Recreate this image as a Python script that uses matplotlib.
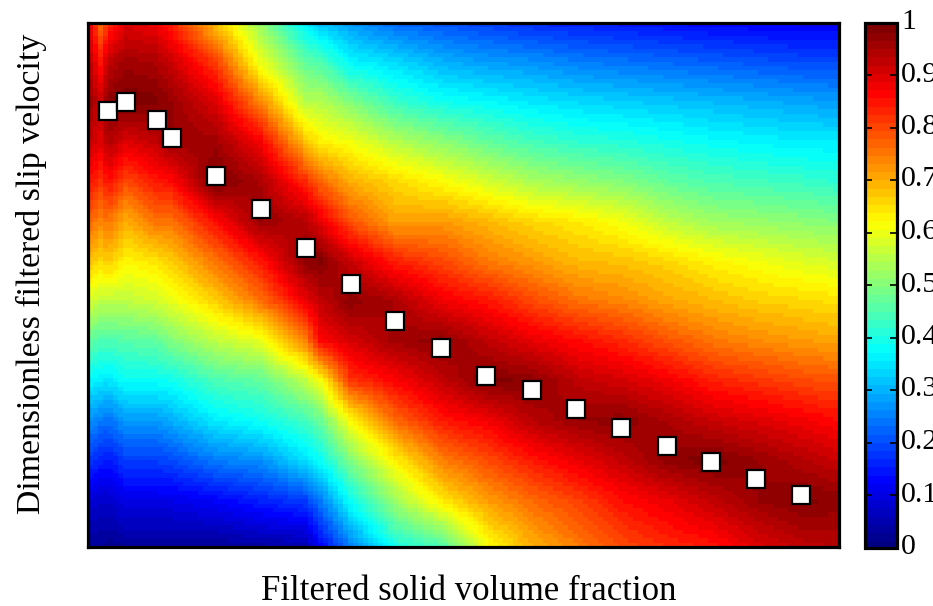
import numpy as np
import matplotlib
matplotlib.use("Agg")
import matplotlib.pyplot as plt
from matplotlib.colors import LinearSegmentedColormap
from matplotlib.ticker import FuncFormatter
from matplotlib.transforms import ScaledTranslation

plt.rcParams['font.family'] = ['Liberation Serif', 'DejaVu Serif']

x_label = "Filtered solid volume fraction"
y_label = "Dimensionless filtered slip velocity"

# Marker positions, in arbitrary axis units (the chart has no axis ticks)
marker_x = [20, 38, 69, 84, 128, 173, 218, 263, 307, 353, 398, 444, 488, 533, 579, 623, 668, 713]
marker_y = [437, 446, 428, 410, 372, 339, 300, 264, 227, 200, 171, 157, 138, 119, 101, 85, 68, 52]

# Heat map samples
grid_x = [3, 13, 20, 38, 68, 83, 128, 173, 218, 233, 263, 308, 356, 401, 446, 491, 536, 581, 626, 671, 716, 751]
grid_y = [526, 487, 447, 407, 367, 327, 287, 247, 207, 167, 127, 87, 47, 0]
heat = [
    [.87, .92, .96, .92, .85, .77, .68, .58, .47, .37, .27, .18, .09, .03],
    [.76, .85, .92, .90, .82, .74, .66, .56, .45, .36, .25, .16, .08, .03],
    [.82, .93, .98, .95, .86, .76, .68, .56, .45, .35, .24, .15, .08, .02],
    [.90, .96, 1.0, .90, .80, .70, .63, .56, .46, .385, .28, .19, .11, .03],
    [.88, .95, .99, .93, .85, .76, .65, .58, .47, .385, .28, .19, .11, .03],
    [.84, .92, .97, .97, .86, .76, .67, .60, .50, .39, .30, .20, .11, .03],
    [.68, .81, .90, .96, 1.0, .86, .76, .67, .56, .45, .36, .25, .13, .03],
    [.52, .60, .74, .875, .95, .97, .85, .76, .60, .47, .39, .27, .16, .04],
    [.36, .47, .55, .68, .83, .94, .98, .89, .75, .56, .44, .35, .19, .05],
    [.32, .45, .55, .635, .77, .89, .99, .93, .87, .62, .48, .385, .25, .13],
    [.28, .37, .50, .61, .70, .79, .92, .98, .91, .82, .62, .50, .39, .25],
    [.23, .34, .43, .55, .66, .71, .84, .95, .96, .87, .77, .635, .53, .40],
    [.21, .30, .39, .51, .62, .72, .80, .88, .98, .93, .85, .75, .65, .45],
    [.19, .28, .375, .47, .58, .69, .75, .85, .93, .99, .88, .80, .72, .62],
    [.17, .27, .355, .44, .54, .66, .72, .80, .89, .98, .94, .85, .77, .70],
    [.16, .25, .34, .42, .52, .64, .69, .76, .86, .93, .97, .89, .81, .75],
    [.15, .24, .33, .41, .50, .61, .68, .74, .83, .91, .98, .93, .86, .80],
    [.14, .23, .32, .395, .47, .56, .66, .71, .79, .88, .95, .98, .89, .83],
    [.13, .22, .31, .38, .45, .53, .63, .69, .755, .84, .92, .995, .93, .85],
    [.125, .21, .30, .37, .44, .52, .61, .67, .735, .82, .90, .97, .97, .90],
    [.12, .20, .29, .36, .43, .51, .59, .66, .72, .80, .88, .94, .99, .93],
    [.12, .20, .28, .36, .42, .50, .58, .65, .71, .79, .86, .92, .98, .94],
]
x_max = 751
y_max = 526
cbar_ticks = [0, .1, .2, .3, .4, .5, .6, .7, .8, .9, 1]

# 64-level jet with the break points the reference's colour bar shows
jet_stops = [(0, (0, 0, .5)), (.125, (0, 0, 1)), (.375, (0, 1, 1)),
             (.625, (1, 1, 0)), (.875, (1, 0, 0)), (1, (.5, 0, 0))]
cmap = LinearSegmentedColormap.from_list('ref_jet', jet_stops, N=64)

heat = np.array(heat)
gx = np.array(grid_x, float)
gy = np.array(grid_y, float)[::-1]
h = heat[:, ::-1]

# cell raster for the colour mesh
ex = np.linspace(0, x_max, 151)
ey = np.linspace(0, y_max, 122)
cx = (ex[:-1] + ex[1:]) / 2
cy = (ey[:-1] + ey[1:]) / 2
by_col = np.array([np.interp(cy, gy, col) for col in h])
Z = np.array([np.interp(cx, gx, row) for row in by_col.T])

fig = plt.figure(figsize=(9.33, 6.06), dpi=100)
W, H = 933, 606
ax = fig.add_axes([87.5 / W, 1 - 547 / H, (838.5 - 87.5) / W, (547 - 22.5) / H])
cax = fig.add_axes([864.5 / W, 1 - 547.5 / H, (897 - 864.5) / W, (547.5 - 22.5) / H])

mesh = ax.pcolormesh(ex, ey, Z, cmap=cmap, vmin=0, vmax=1, shading='flat', rasterized=True)
ax.plot(marker_x, marker_y, ls='none', marker='s', ms=13, mfc='white', mec='black', mew=1.6, zorder=5)
ax.set_xlim(0, x_max)
ax.set_ylim(0, y_max)
ax.set_xticks([])
ax.set_yticks([])
for s in ax.spines.values():
    s.set_linewidth(2.3)

fig.text(469 / W, 1 - 591.5 / H, x_label, ha='center', va='center', fontsize=25)
fig.text(31 / W, 1 - 274 / H, y_label, ha='center', va='center', rotation=90, fontsize=24.4)

cb = fig.colorbar(mesh, cax=cax)
cb.set_ticks(cbar_ticks)
cb.ax.yaxis.set_major_formatter(FuncFormatter(lambda v, _: f"{v:g}"))
cb.ax.tick_params(axis='y', which='major', direction='in', length=5, width=1.2,
                  left=True, right=True, labelsize=21.5, pad=3)
cb.ax.minorticks_off()
cb.solids.set_edgecolor('face')
lift = ScaledTranslation(0, 3.5 / 100, fig.dpi_scale_trans)
for lab in cb.ax.get_yticklabels():
    lab.set_transform(lab.get_transform() + lift)
cb.outline.set_linewidth(2.3)

fig.savefig('out.png', dpi=100)
